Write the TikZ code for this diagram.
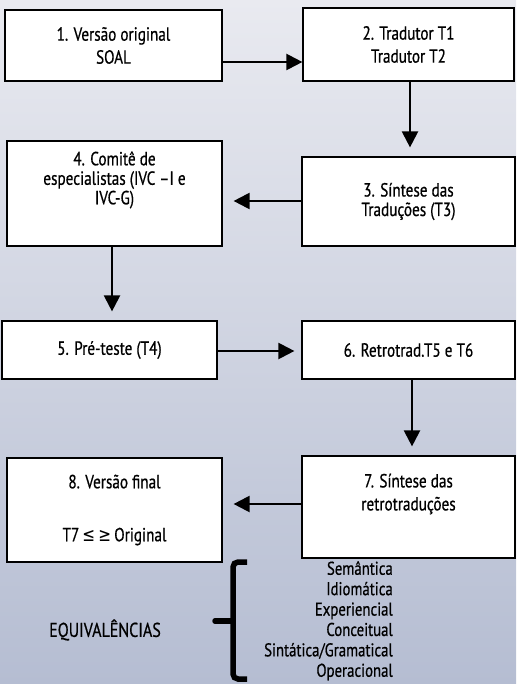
\documentclass[tikz,border=0pt]{standalone}
\usepackage{fontspec}
\setmainfont{PT Sans}[FakeStretch=0.8,FakeBold=0.6]
\newfontfamily\symfont{DejaVu Sans}[FakeStretch=0.8]
\usetikzlibrary{arrows.meta}

\tikzset{
  etapa/.style={shape=rectangle,draw,line width=1.2pt,fill=white,inner sep=0pt,align=center,
    font=\fontsize{19}{23}\selectfont},
  seta/.style={-{Triangle[length=16pt,width=16pt]},line width=2.2pt}
}
\definecolor{fundoA}{RGB}{233,234,240}
\definecolor{fundoB}{RGB}{181,189,210}

\begin{document}
\begin{tikzpicture}[x=1pt,y=-1pt]
% fundo
\shade [top color=fundoA,bottom color=fundoB] (0,0) rectangle (516,684);
\useasboundingbox (0,0) rectangle (516,684);

\path (113.5,45.5) node (versao) [etapa,minimum width=217pt,minimum height=71pt] {1. Versão original\\SOAL};
\path (408.5,44.5) node (tradutor) [etapa,minimum width=211pt,minimum height=73pt] {2. Tradutor T1\\Tradutor T2};
\path (408.5,201.5) node (sintese) [etapa,minimum width=213pt,minimum height=89pt,font=\fontsize{19}{19.5}\selectfont] {3. Síntese das\\Traduções (T3)};
\path (114.5,193.5) node (comite) [etapa,minimum width=215pt,minimum height=105pt,font=\fontsize{19}{19.5}\selectfont] {4. Comitê de\\especialistas (IVC –I e\\IVC-G)\\[6pt]\strut};
\path (109.5,350) node (preteste) [etapa,minimum width=215pt,minimum height=58pt] {5. Pré-teste (T4)};
\path (408.5,350) node (retro) [etapa,minimum width=213pt,minimum height=58pt] {6. Retrotrad.T5 e T6};
\path (408.5,507) node (sintret) [etapa,minimum width=213pt,minimum height=102pt] {7. Síntese das\\retrotraduções\\\strut};
\path (114.5,510) node (final) [etapa,minimum width=215pt,minimum height=104pt] {8. Versão final\\[30pt]T7{\symfont\,≤\,≥\,}Original};

\draw [seta] (versao.east |- 0,62) to (tradutor.west |- 0,62);
\draw [seta,shorten >=9pt] (tradutor.south -| 410,0) to (sintese.north -| 410,0);
\draw [seta,shorten >=11pt] (sintese.west |- 0,201) to (comite.east |- 0,201);
\draw [seta,shorten >=9pt] (comite.south -| 112,0) to (preteste.north -| 112,0);
\draw [seta,shorten >=7pt] (preteste.east |- 0,351) to (retro.west |- 0,351);
\draw [seta,shorten >=9pt] (retro.south -| 412,0) to (sintret.north -| 412,0);
\draw [seta,shorten >=11pt] (sintret.west |- 0,504) to (final.east |- 0,504);

% equivalencias
\path (105,630) node (equiv) [font=\fontsize{20}{21}\selectfont] {EQUIVALÊNCIAS};
\path (393,561) node (tipos) [anchor=north east,align=right,inner sep=0pt,font=\fontsize{18.5}{20.4}\selectfont]
  {Semântica\\Idiomática\\Experiencial\\Conceitual\\Sintática/Gramatical\\Operacional};
\draw [line width=5.5pt,rounded corners=5pt] (247,562) -| (233,679) -- (247,679);
\draw [line width=5.5pt,line cap=round] (233,621) -- (215,621);
\end{tikzpicture}
\end{document}
